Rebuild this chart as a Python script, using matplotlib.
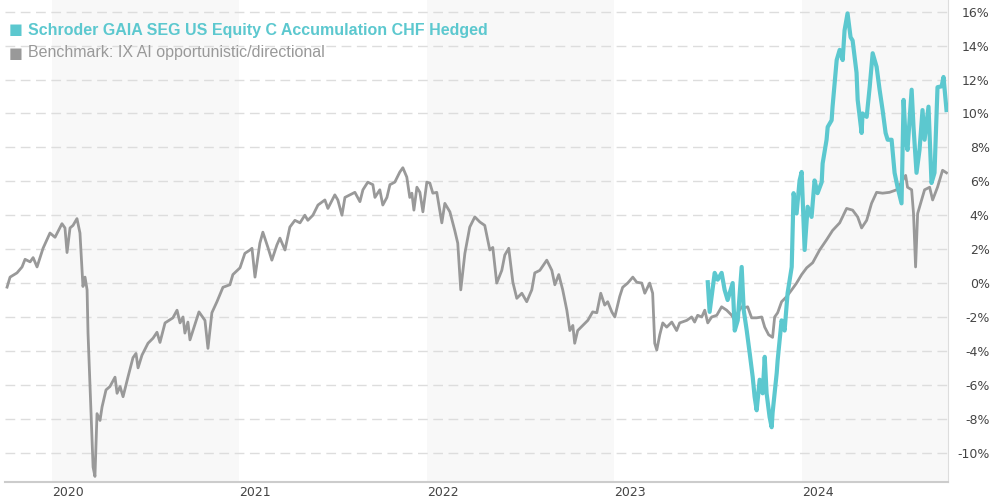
import matplotlib
matplotlib.use("Agg")
import matplotlib.pyplot as plt
import numpy as np

# ---- data (x in decimal years, y in %) ----
bench_t = [2019.760, 2019.776, 2019.813, 2019.840, 2019.856, 2019.883, 2019.899, 2019.920, 2019.936, 2019.952,
           2019.989, 2020.016, 2020.053, 2020.069, 2020.080, 2020.096, 2020.112, 2020.133, 2020.149, 2020.165,
           2020.176, 2020.187, 2020.192, 2020.208, 2020.219, 2020.229, 2020.240, 2020.256, 2020.267, 2020.288,
           2020.309, 2020.336, 2020.347, 2020.363, 2020.379, 2020.405, 2020.432, 2020.448, 2020.459, 2020.480,
           2020.512, 2020.539, 2020.560, 2020.576, 2020.603, 2020.645, 2020.667, 2020.683, 2020.699, 2020.709,
           2020.725, 2020.736, 2020.752, 2020.784, 2020.816, 2020.832, 2020.853, 2020.880, 2020.912, 2020.949,
           2020.965, 2021.003, 2021.029, 2021.056, 2021.067, 2021.083, 2021.109, 2021.125, 2021.152, 2021.173,
           2021.200, 2021.216, 2021.243, 2021.269, 2021.296, 2021.323, 2021.349, 2021.365, 2021.392, 2021.419,
           2021.456, 2021.472, 2021.509, 2021.525, 2021.547, 2021.563, 2021.589, 2021.616, 2021.643, 2021.659,
           2021.685, 2021.712, 2021.723, 2021.749, 2021.765, 2021.787, 2021.803, 2021.829, 2021.856, 2021.872,
           2021.893, 2021.909, 2021.920, 2021.931, 2021.947, 2021.963, 2021.979, 2022.000, 2022.016, 2022.032,
           2022.053, 2022.080, 2022.096, 2022.123, 2022.149, 2022.165, 2022.181, 2022.203, 2022.229, 2022.256,
           2022.283, 2022.309, 2022.336, 2022.352, 2022.373, 2022.400, 2022.416, 2022.437, 2022.459, 2022.480,
           2022.507, 2022.533, 2022.560, 2022.576, 2022.603, 2022.640, 2022.667, 2022.683, 2022.704, 2022.725,
           2022.747, 2022.763, 2022.779, 2022.789, 2022.805, 2022.832, 2022.859, 2022.885, 2022.907, 2022.928,
           2022.949, 2022.965, 2022.987, 2023.003, 2023.029, 2023.045, 2023.072, 2023.099, 2023.120, 2023.147,
           2023.163, 2023.189, 2023.205, 2023.216, 2023.227, 2023.243, 2023.259, 2023.280, 2023.307, 2023.333,
           2023.349, 2023.387, 2023.413, 2023.429, 2023.445, 2023.467, 2023.483, 2023.499, 2023.520, 2023.547,
           2023.573, 2023.600, 2023.627, 2023.643, 2023.659, 2023.680, 2023.696, 2023.712, 2023.733, 2023.760,
           2023.787, 2023.803, 2023.824, 2023.845, 2023.856, 2023.872, 2023.893, 2023.920, 2023.947, 2023.973,
           2024.000, 2024.027, 2024.059, 2024.096, 2024.133, 2024.165, 2024.203, 2024.240, 2024.272, 2024.299,
           2024.320, 2024.347, 2024.373, 2024.400, 2024.432, 2024.469, 2024.507, 2024.533, 2024.555, 2024.565,
           2024.587, 2024.597, 2024.608, 2024.619, 2024.640, 2024.656, 2024.683, 2024.699, 2024.725, 2024.752,
           2024.773]
bench_v = [-0.24, 0.35, 0.6, 0.95, 1.4, 1.25, 1.5, 0.95, 1.5, 2.05,
           2.95, 2.7, 3.5, 3.25, 1.8, 3.25, 3.4, 3.8, 2.95, -0.2,
           0.35, -0.4, -2.95, -7.7, -10.85, -11.4, -7.7, -8.1, -7.3, -6.3,
           -6.1, -5.55, -6.5, -6.1, -6.7, -5.55, -4.4, -4.15, -5.0, -4.25,
           -3.55, -3.25, -2.9, -3.5, -2.35, -2.05, -1.6, -2.35, -2.0, -2.95,
           -2.3, -3.35, -2.8, -1.7, -2.2, -3.85, -1.75, -1.1, -0.25, -0.1,
           0.5, 0.9, 1.75, 1.95, 2.05, 0.35, 2.35, 3.0, 2.1, 1.35,
           2.25, 2.65, 1.95, 3.3, 3.7, 3.55, 4.0, 3.7, 4.0, 4.6,
           4.9, 4.4, 5.2, 4.9, 4.0, 5.05, 5.2, 5.35, 4.8, 5.5,
           5.95, 5.8, 5.05, 5.5, 4.6, 5.05, 5.8, 5.95, 6.55, 6.8,
           6.25, 5.05, 5.3, 4.3, 5.65, 5.35, 4.2, 5.95, 5.9, 5.3,
           5.35, 3.55, 4.7, 4.2, 3.1, 2.35, -0.4, 1.75, 3.3, 3.9,
           3.6, 3.4, 1.95, 2.1, 0.0, 0.75, 1.65, 2.05, 0.05, -0.9,
           -0.6, -1.1, -0.4, 0.6, 0.75, 1.35, 0.75, -0.1, 0.5, -0.4,
           -1.6, -2.8, -2.5, -3.55, -2.8, -2.5, -2.2, -1.7, -1.75, -0.6,
           -1.3, -1.1, -1.7, -2.0, -0.8, -0.25, 0.0, 0.35, 0.05, 0.0,
           -0.6, 0.0, -0.6, -3.55, -3.95, -3.05, -2.35, -2.6, -2.3, -2.8,
           -2.35, -2.2, -2.0, -2.3, -1.9, -2.0, -1.6, -2.35, -2.0, -1.9,
           -1.4, -1.6, -1.9, -2.2, -1.75, -1.4, -1.45, -1.4, -2.05, -2.05,
           -2.0, -2.6, -3.05, -3.2, -2.0, -1.75, -1.1, -0.8, -0.4, 0.0,
           0.5, 0.9, 1.2, 1.95, 2.55, 3.1, 3.55, 4.4, 4.3, 3.9,
           3.25, 3.7, 4.7, 5.35, 5.3, 5.35, 5.5, 5.95, 6.35, 5.65,
           5.5, 4.1, 0.95, 4.1, 4.9, 5.5, 5.65, 4.9, 5.65, 6.65,
           6.5]

fund_t = [2023.499, 2023.509, 2023.536, 2023.552, 2023.573, 2023.589, 2023.605, 2023.632, 2023.643, 2023.659,
          2023.680, 2023.691, 2023.707, 2023.723, 2023.739, 2023.749, 2023.760, 2023.776, 2023.792, 2023.803,
          2023.813, 2023.829, 2023.840, 2023.845, 2023.867, 2023.872, 2023.893, 2023.909, 2023.925, 2023.947,
          2023.957, 2023.973, 2023.989, 2024.000, 2024.016, 2024.032, 2024.053, 2024.069, 2024.085, 2024.107,
          2024.112, 2024.133, 2024.139, 2024.160, 2024.165, 2024.187, 2024.203, 2024.219, 2024.229, 2024.245,
          2024.261, 2024.272, 2024.293, 2024.299, 2024.320, 2024.325, 2024.347, 2024.363, 2024.379, 2024.400,
          2024.416, 2024.432, 2024.448, 2024.459, 2024.480, 2024.496, 2024.512, 2024.533, 2024.544, 2024.555,
          2024.565, 2024.587, 2024.597, 2024.613, 2024.629, 2024.645, 2024.656, 2024.677, 2024.693, 2024.709,
          2024.725, 2024.747, 2024.757, 2024.773]
fund_v = [0.05, -1.7, 0.6, 0.2, 0.6, -0.4, -1.0, 0.0, -2.8, -2.2,
          0.95, -1.6, -2.8, -4.15, -5.55, -6.7, -7.5, -5.7, -6.5, -4.35,
          -6.5, -7.9, -8.5, -7.65, -5.3, -4.55, -2.2, -2.8, -0.6, 0.95,
          5.3, 4.1, 6.05, 6.55, 1.95, 4.5, 3.9, 6.05, 5.3, 5.95,
          7.05, 8.45, 9.2, 9.6, 10.4, 13.15, 13.75, 13.15, 14.9, 15.9,
          14.5, 14.3, 12.4, 10.8, 8.85, 10.0, 9.8, 11.55, 13.55, 12.75,
          11.4, 10.2, 8.85, 8.45, 8.45, 6.5, 5.65, 4.7, 10.8, 8.45,
          7.85, 11.4, 9.2, 6.5, 7.85, 10.2, 8.45, 10.4, 5.9, 6.5,
          11.55, 11.6, 12.15, 10.2]

years = [2020, 2021, 2022, 2023, 2024]
y_ticks = list(range(-10, 17, 2))

fund_name = "Schroder GAIA SEG US Equity C Accumulation CHF Hedged"
bench_name = "Benchmark: IX AI opportunistic/directional"

TEAL = "#5cc8cf"
GRAY = "#999999"

fig = plt.figure(figsize=(9.9, 5.0), dpi=100)
W, H = 990, 500
left, right, top, bottom = 5, 948, 0, 482
ax = fig.add_axes([left / W, 1 - bottom / H, (right - left) / W, (bottom - top) / H])

xmin, xmax = 2019.749, 2024.781
ymin, ymax = -11.73, 16.69
ax.set_xlim(xmin, xmax)
ax.set_ylim(ymin, ymax)

for y0 in (2020, 2022, 2024):
    ax.axvspan(y0, min(y0 + 1, xmax), color="#f8f8f8", lw=0, zorder=0)

for t in y_ticks:
    ax.axhline(t, color="#dddddd", lw=1, ls=(0, (7, 4)), zorder=1)

ax.plot(bench_t, bench_v, color=GRAY, lw=2.0, zorder=3, solid_joinstyle="round")
ax.plot(fund_t, fund_v, color=TEAL, lw=3.0, zorder=4, solid_joinstyle="round")

for s in ("top", "left"):
    ax.spines[s].set_visible(False)
ax.spines["right"].set_color("#dddddd")
ax.spines["bottom"].set_color("#cccccc")
ax.spines["bottom"].set_linewidth(1.5)

ax.yaxis.tick_right()
ax.set_yticks(y_ticks)
ax.set_yticklabels([f"{t}%" for t in y_ticks], fontsize=9, color="#444444",
                   family="DejaVu Sans")
for lab in ax.get_yticklabels():
    lab.set_horizontalalignment("right")
ax.tick_params(axis="y", length=0, pad=30)

ax.set_xticks(years)
ax.set_xticklabels([str(y) for y in years], fontsize=9, color="#444444", family="DejaVu Sans")
for lab in ax.get_xticklabels():
    lab.set_horizontalalignment("left")
ax.tick_params(axis="x", length=0, pad=3)

fig.text(9 / W, 1 - 30 / H, "\u25A0", color=TEAL, fontsize=10.5, va="center", ha="left", family="DejaVu Sans")
fig.text(28 / W, 1 - 30 / H, fund_name, color=TEAL, fontsize=11.5, fontweight="bold",
         va="center", ha="left", family="Liberation Sans")
fig.text(9 / W, 1 - 53 / H, "\u25A0", color=GRAY, fontsize=10.5, va="center", ha="left", family="DejaVu Sans")
fig.text(28 / W, 1 - 53 / H, bench_name, color=GRAY, fontsize=11.5,
         va="center", ha="left", family="Liberation Sans")

fig.savefig("out.png", dpi=100)
